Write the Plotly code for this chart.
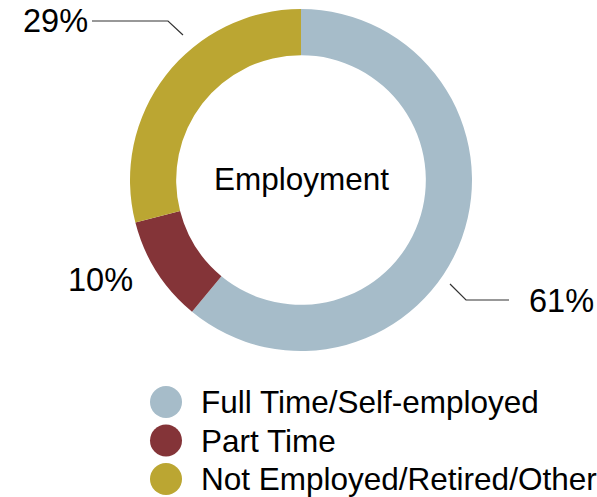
import plotly.graph_objects as go

# ---- data ----
categories = ["Full Time/Self-employed", "Part Time", "Not Employed/Retired/Other"]
values = [61, 10, 29]
colors = ["#A6BCC9", "#843438", "#BBA632"]
center_title = "Employment"

# ---- layout constants (pixel space of the 597x497 window) ----
W, H = 597, 497
CX, CY, R = 301, 180, 171
FONT = "Liberation Sans, Arial, sans-serif"
FS_LABEL = 32.5
FS_TEXT = 31.5
label_pos = [(527, 301, "left"), (135, 280, "right"), (90, 21, "right")]
leaders = [
    [(450, 284), (466, 300), (509, 300)],
    None,
    [(183, 35), (168, 21), (92, 21)],
]
legend_x, legend_text_x, legend_y0, legend_dy = 166, 199, 402, 38.5

fig = go.Figure()

fig.add_trace(go.Pie(
    labels=categories, values=values, sort=False, direction="clockwise",
    rotation=0, hole=0.73, textinfo="none", hoverinfo="label+percent",
    marker=dict(colors=colors, line=dict(width=0)),
    domain=dict(x=[(CX - R) / W, (CX + R) / W],
                y=[(H - CY - R) / H, (H - CY + R) / H]),
    showlegend=False,
))

for pts in leaders:
    if pts is None:
        continue
    fig.add_trace(go.Scatter(
        x=[p[0] for p in pts], y=[p[1] for p in pts], mode="lines",
        line=dict(color="#333333", width=1.2), hoverinfo="skip", showlegend=False,
    ))

total = sum(values)
for v, (lx, ly, anc) in zip(values, label_pos):
    fig.add_annotation(x=lx, y=ly, xref="x", yref="y", text=f"{round(100 * v / total)}%",
                       showarrow=False, xanchor=anc, yanchor="middle",
                       font=dict(family=FONT, size=FS_LABEL, color="#000000"))

fig.add_annotation(x=CX, y=CY - 1, xref="x", yref="y", text=center_title, showarrow=False,
                   xanchor="center", yanchor="middle",
                   font=dict(family=FONT, size=FS_TEXT, color="#000000"))

ys = [legend_y0 + i * legend_dy for i in range(len(categories))]
fig.add_trace(go.Scatter(
    x=[legend_x] * len(categories), y=ys, mode="markers",
    marker=dict(size=32, color=colors, line=dict(width=0)),
    hoverinfo="skip", showlegend=False,
))
for cat, y in zip(categories, ys):
    fig.add_annotation(x=legend_text_x, y=y, xref="x", yref="y", text=cat, showarrow=False,
                       xanchor="left", yanchor="middle",
                       font=dict(family=FONT, size=FS_TEXT, color="#000000"))

fig.update_layout(
    width=W, height=H, margin=dict(l=0, r=0, t=0, b=0),
    paper_bgcolor="white", plot_bgcolor="white",
    xaxis=dict(range=[0, W], visible=False, domain=[0, 1], fixedrange=True),
    yaxis=dict(range=[H, 0], visible=False, domain=[0, 1], fixedrange=True),
    showlegend=False,
)

fig.write_html(
    "out.html",
    config={"displayModeBar": False},
    post_script="document.body.style.margin='0';document.body.style.overflow='hidden';",
)
